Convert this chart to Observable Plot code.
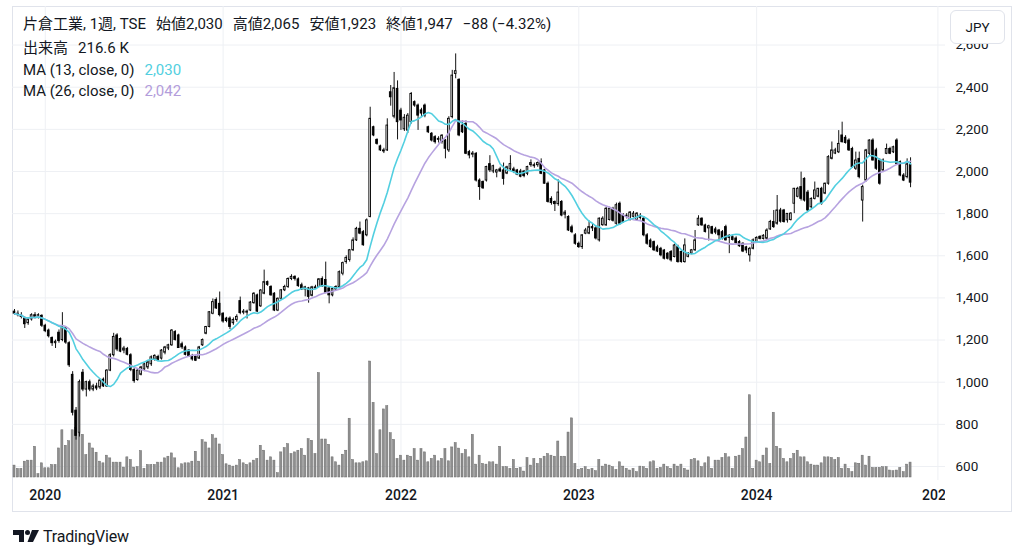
<!DOCTYPE html>
<html>
<head>
<meta charset="utf-8">
<script src="https://cdn.jsdelivr.net/npm/d3@7"></script>
<script src="https://cdn.jsdelivr.net/npm/@observablehq/plot@0.6"></script>
<style>
html,body{margin:0;padding:0;background:#fff;}
#wrap{position:relative;width:1024px;height:557px;overflow:hidden;font-family:Roboto,"Noto Sans CJK JP",sans-serif;color:#131722;}
.layer{position:absolute;left:0;top:0;}
.layer svg{display:block;}
#frame{position:absolute;left:12px;top:6px;width:1000px;height:506px;border:1px solid #e0e3eb;box-sizing:border-box;pointer-events:none;}
.leg{position:absolute;left:23px;height:20px;line-height:20px;font-size:15px;white-space:nowrap;color:#131722;}
.leg span.g{margin-left:10px;}
#jpy{position:absolute;left:950px;top:10px;width:55px;height:34px;box-sizing:border-box;border:1px solid #e0e3eb;border-radius:6px;background:#fff;font-size:13.5px;line-height:32px;text-align:center;color:#131722;}
#mask{position:absolute;left:945px;top:481px;width:65px;height:29px;background:#fff;}
#logo{position:absolute;left:13px;top:526px;height:20px;display:flex;align-items:center;}
#logo span{font-size:16px;margin-left:4px;color:#131722;letter-spacing:-0.2px;}
</style>
</head>
<body>
<div id="wrap">
  <div id="frame"></div>
  <div class="layer" id="gridLayer"></div>
  <div class="layer" id="volLayer"></div>
  <div class="layer" id="candleLayer"></div>
  <div id="mask"></div>
  <div class="leg" style="top:14px">片倉工業, 1週, TSE<span class="g">始値2,030</span><span class="g">高値2,065</span><span class="g">安値1,923</span><span class="g">終値1,947</span><span class="g">−88 (−4.32%)</span></div>
  <div class="leg" style="top:38px">出来高<span class="g">216.6 K</span></div>
  <div class="leg" style="top:60px">MA (13, close, 0)<span class="g" style="color:#52cfe0">2,030</span></div>
  <div class="leg" style="top:81px">MA (26, close, 0)<span class="g" style="color:#b39ddb">2,042</span></div>
  <div id="jpy">JPY</div>
  <div id="logo">
    <svg width="26" height="12" viewBox="0 0 26 12"><path d="M0 0H11V12H6V5H0Z" fill="#131722"/><circle cx="14.5" cy="2.5" r="2.5" fill="#131722"/><path d="M19 0H26L20 12H14.5Z" fill="#131722"/></svg>
    <span>TradingView</span>
  </div>
</div>
<script>
// weekly candles [open, high, low, close], first bar = week of 2019-11-04
const ohlc2019 = [
[1335,1345,1318,1325],[1325,1338,1310,1318],[1318,1330,1300,1310],[1305,1310,1255,1275],[1280,1305,1270,1298],
[1298,1325,1290,1318],[1318,1330,1300,1310],[1310,1325,1300,1318],[1315,1320,1260,1268]];
const ohlc2020 = [
[1268,1275,1235,1242],[1245,1252,1210,1218],[1210,1215,1170,1185],[1185,1200,1160,1192],[1235,1248,1185,1195],
[1200,1330,1192,1262],[1255,1262,1180,1188],[1185,1192,1070,1080],[1035,1050,840,855],[865,880,725,745],
[760,1010,740,1000],[1045,1060,955,965],[965,1005,930,1000],[1000,1010,955,965],[965,990,955,980],
[980,995,960,970],[975,1015,965,1008],[1012,1020,975,980],[980,1060,975,1055],[1055,1135,1050,1128],
[1128,1232,1120,1215],[1222,1230,1145,1155],[1205,1210,1140,1145],[1150,1170,1135,1160],[1158,1165,1125,1130],
[1128,1135,1050,1058],[1058,1065,995,1005],[1010,1060,1005,1055],[1035,1075,1030,1070],[1060,1090,1050,1085],
[1070,1100,1060,1095],[1085,1125,1075,1118],[1108,1130,1100,1125],[1120,1128,1100,1105],[1112,1155,1105,1150],
[1140,1170,1130,1165],[1160,1180,1150,1175],[1175,1250,1170,1245],[1238,1245,1195,1200],[1222,1228,1160,1162],
[1180,1190,1155,1165],[1165,1172,1125,1130],[1150,1155,1118,1120],[1125,1132,1100,1108],[1120,1125,1098,1102],
[1112,1170,1108,1165],[1175,1205,1170,1200],[1230,1265,1225,1262],[1262,1335,1258,1332],[1325,1395,1320,1380],
[1390,1400,1345,1350],[1372,1428,1310,1318]];
const ohlc2021 = [
[1325,1330,1280,1288],[1302,1308,1282,1290],[1302,1310,1250,1262],[1280,1305,1270,1295],[1295,1320,1285,1310],
[1385,1404,1320,1328],[1330,1345,1320,1335],[1330,1342,1300,1335],[1340,1382,1335,1378],[1375,1425,1370,1420],
[1412,1418,1330,1335],[1360,1440,1355,1435],[1420,1532,1415,1475],[1475,1480,1455,1462],[1452,1458,1408,1412],
[1420,1425,1335,1340],[1340,1400,1335,1396],[1396,1440,1390,1436],[1436,1460,1430,1452],[1452,1495,1445,1490],
[1490,1510,1482,1500],[1500,1505,1480,1490],[1488,1495,1450,1456],[1460,1470,1435,1440],[1440,1455,1405,1450],
[1445,1450,1375,1405],[1410,1455,1405,1450],[1450,1460,1440,1445],[1452,1492,1448,1488],[1490,1500,1450,1455],
[1485,1570,1420,1425],[1445,1450,1372,1412],[1412,1448,1405,1442],[1440,1458,1435,1452],[1452,1528,1448,1522],
[1515,1570,1505,1565],[1570,1600,1560,1590],[1580,1630,1570,1626],[1626,1685,1620,1673],[1673,1735,1668,1728],
[1728,1760,1700,1705],[1712,1720,1645,1650],[1697,1775,1690,1768],[1784,2305,1780,2250],[2210,2215,2165,2171],
[2150,2155,2125,2131],[2119,2125,2095,2100],[2100,2110,2085,2095],[2100,2250,2095,2218],[2376,2408,2310,2352],
[2260,2470,2250,2395],[2392,2430,2150,2234]];
const ohlc2022 = [
[2289,2300,2195,2242],[2200,2270,2190,2255],[2194,2275,2180,2265],[2234,2375,2225,2368],[2329,2335,2305,2313],
[2313,2320,2195,2265],[2290,2300,2260,2275],[2313,2320,2255,2265],[2210,2215,2180,2186],[2179,2185,2140,2147],
[2163,2170,2130,2139],[2150,2165,2135,2155],[2140,2175,2130,2170],[2147,2152,2060,2108],[2100,2260,2090,2250],
[2258,2480,2250,2455],[2463,2558,2440,2476],[2435,2440,2165,2171],[2218,2240,2180,2186],[2226,2240,2080,2084],
[2092,2100,2060,2076],[2080,2095,2065,2085],[2084,2090,1950,1957],[1957,1965,1863,1926],[1950,1955,1915,1920],
[1957,2025,1950,2021],[2035,2075,1995,2005],[2000,2030,1990,2025],[1995,2010,1970,2005],[2010,2020,1995,2000],
[2005,2040,1935,1965],[1990,2025,1985,2020],[2010,2075,2000,2035],[2010,2020,1990,2000],[2005,2010,1980,1985],
[2000,2010,1970,1975],[2000,2005,1970,1978],[1989,2025,1980,2021],[2030,2055,2020,2040],[2025,2040,2015,2030],
[2030,2045,2020,2040],[2044,2060,1985,1989],[2005,2010,1940,1942],[1942,1950,1850,1855],[1870,1880,1840,1850],
[1855,1860,1810,1845],[1845,1960,1835,1900],[1855,1862,1785,1791],[1795,1815,1775,1805],[1784,1790,1715,1720],
[1735,1745,1705,1712],[1697,1705,1650,1657]];
const ohlc2023 = [
[1657,1665,1635,1641],[1641,1700,1630,1697],[1705,1730,1700,1720],[1705,1765,1700,1736],[1736,1750,1715,1730],
[1730,1740,1675,1682],[1673,1780,1665,1776],[1745,1785,1740,1776],[1744,1830,1740,1823],[1770,1830,1765,1823],
[1823,1830,1760,1766],[1752,1850,1745,1840],[1847,1855,1745,1752],[1790,1800,1755,1760],[1790,1800,1775,1785],
[1770,1810,1765,1805],[1785,1810,1780,1800],[1770,1805,1765,1800],[1790,1800,1770,1780],[1776,1785,1690,1697],
[1697,1705,1650,1657],[1672,1680,1635,1641],[1665,1670,1620,1626],[1640,1650,1615,1620],[1633,1640,1595,1602],
[1625,1630,1580,1586],[1610,1615,1580,1586],[1618,1625,1570,1578],[1594,1655,1590,1649],[1641,1650,1565,1570],
[1618,1625,1565,1570],[1570,1680,1565,1649],[1595,1615,1590,1610],[1610,1630,1605,1626],[1626,1720,1620,1673],
[1744,1790,1740,1776],[1776,1780,1740,1744],[1744,1750,1708,1713],[1730,1745,1670,1740],[1736,1740,1700,1705],
[1725,1735,1700,1710],[1720,1725,1670,1697],[1712,1720,1675,1680],[1736,1745,1670,1673],[1695,1700,1610,1685],
[1688,1695,1670,1675],[1682,1690,1655,1660],[1665,1672,1640,1645],[1657,1662,1615,1620],[1640,1645,1610,1625],
[1602,1640,1570,1633],[1633,1680,1628,1673]];
const ohlc2024 = [
[1665,1690,1660,1685],[1690,1695,1675,1680],[1680,1700,1675,1695],[1681,1728,1675,1720],[1725,1768,1720,1760],
[1760,1815,1730,1736],[1752,1886,1745,1815],[1815,1825,1755,1762],[1815,1820,1755,1760],[1768,1800,1755,1799],
[1770,1805,1765,1800],[1847,1920,1800,1918],[1880,1925,1875,1918],[1926,1997,1860,1870],[1965,1970,1855,1862],
[1900,1910,1810,1815],[1830,1875,1825,1870],[1870,1950,1865,1910],[1880,1920,1875,1918],[1918,1925,1840,1847],
[1895,1945,1890,1942],[1942,2075,1935,2068],[2060,2140,2055,2100],[2085,2110,2080,2100],[2091,2194,2085,2131],
[2171,2234,2135,2139],[2160,2170,2130,2135],[2147,2155,2095,2100],[2107,2115,2015,2020],[2013,2092,2005,2052],
[2060,2092,1965,1973],[1862,1935,1760,1926],[1957,2105,1950,2100],[2084,2150,2075,2147],[2147,2155,2050,2052],
[2100,2110,2005,2013],[2052,2060,1935,1942],[2005,2060,1995,2052],[2084,2130,2080,2107],[2107,2115,2080,2084],
[2091,2120,2085,2115],[2147,2155,2030,2036],[2044,2050,1975,1981],[1981,1990,1952,1957],[1973,2060,1965,2035],
[2030,2065,1923,1947]];

// weekly volume, thousands of shares
const vol2019 = [173,125,125,230,245,245,446,48,206];
const vol2020 = [134,134,182,182,422,686,461,528,686,720,640,620,326,494,422,360,230,206,317,278,
216,216,216,144,293,254,144,149,384,125,182,182,182,216,216,278,302,350,278,134,
192,206,206,230,374,230,542,509,422,614,566,480];
const vol2021 = [326,192,173,158,173,254,206,182,206,245,269,461,389,245,293,245,62,365,427,485,
341,365,389,413,317,557,533,341,1517,552,552,475,293,221,173,331,389,854,254,206,
206,221,235,1685,1085,340,686,989,1037,643,547,269];
const vol2022 = [317,245,317,302,413,245,413,365,221,269,317,235,269,413,235,437,500,420,341,398,
293,619,187,317,197,187,221,221,187,446,149,149,125,254,125,139,86,283,173,269,
197,269,302,341,317,302,523,302,302,653,859,197];
const vol2023 = [110,125,149,110,125,91,254,158,187,173,149,110,221,158,125,101,125,77,158,149,
125,221,235,125,139,187,149,125,187,158,187,125,101,254,269,235,149,206,293,125,
245,245,283,341,293,125,302,317,413,581,1195,125];
const vol2024 = [245,221,317,422,197,941,446,413,269,221,269,341,389,293,293,221,187,173,173,206,
293,293,283,254,283,125,187,125,77,206,200,317,173,302,139,139,139,149,149,101,
91,101,139,77,187,216.6];

const firstWeek = "2019-11-04";
const yearTicks = ["2020-01-06","2021-01-04","2022-01-03","2023-01-02","2024-01-01","2025-01-06"];
const priceTicks = [600,800,1000,1200,1400,1600,1800,2000,2200,2400,2600];

const WEEK = 7 * 864e5;
const start = new Date(firstWeek + "T00:00:00Z");
const candles = [].concat(ohlc2019, ohlc2020, ohlc2021, ohlc2022, ohlc2023, ohlc2024);
const volumes = [].concat(vol2019, vol2020, vol2021, vol2022, vol2023, vol2024);
const data = candles.map(([open, high, low, close], i) => ({
  date: new Date(+start + i * WEEK), open, high, low, close, volume: volumes[i], up: close >= open
}));
const yearDates = yearTicks.map(s => new Date(s + "T00:00:00Z"));

const W = 1024, H = 512;
const common = {width: W, height: H, marginLeft: 12, marginRight: 79};
const xDomain = [new Date(+start - 0.585 * WEEK), new Date(+start + 272.22 * WEEK)];
const priceDomain = [533.5, 2783];
const font = {background: "transparent", fontFamily: "Roboto, 'Noto Sans CJK JP', sans-serif", color: "#131722", overflow: "visible"};
const half = 0.24 * WEEK;

const gridPlot = Plot.plot({
  ...common, marginTop: 6, marginBottom: 32,
  x: {type: "utc", domain: xDomain},
  y: {domain: priceDomain},
  style: {...font, fontSize: "13.5px"},
  marks: [
    Plot.gridY(priceTicks, {stroke: "#eef0f4", strokeOpacity: 1}),
    Plot.gridX(yearDates, {stroke: "#eef0f4", strokeOpacity: 1}),
    Plot.axisY(priceTicks, {anchor: "right", tickSize: 0, tickPadding: 10, tickFormat: d3.format(","), fontSize: 13.5}),
    Plot.axisX(yearDates, {anchor: "bottom", tickSize: 0, tickPadding: 9.5, tickFormat: d3.utcFormat("%Y"), fontSize: 14, fontWeight: 500})
  ]
});
document.getElementById("gridLayer").append(gridPlot);

const volPlot = Plot.plot({
  ...common, marginTop: 360, marginBottom: 35,
  x: {type: "utc", domain: xDomain, axis: null},
  y: {domain: [0, 1700], axis: null},
  style: font,
  marks: [
    Plot.rectY(data, {x1: d => new Date(+d.date - 0.3 * WEEK), x2: d => new Date(+d.date + 0.3 * WEEK), y: "volume",
      fill: "#8f8f8f", stroke: "#6b6b6b", strokeWidth: 0.5})
  ]
});
document.getElementById("volLayer").append(volPlot);

const candlePlot = Plot.plot({
  ...common, marginTop: 6, marginBottom: 32,
  x: {type: "utc", domain: xDomain, axis: null},
  y: {domain: priceDomain, axis: null},
  style: font,
  marks: [
    Plot.ruleX(data, {x: "date", y1: "low", y2: "high", stroke: "#131313", strokeWidth: 1}),
    Plot.rect(data, {x1: d => new Date(+d.date - half), x2: d => new Date(+d.date + half), y1: "open", y2: "close",
      fill: d => d.up ? "#ffffff" : "#000000", stroke: "#000000", strokeWidth: 0.9}),
    Plot.lineY(data, Plot.windowY({k: 26, anchor: "end", reduce: "mean"}, {x: "date", y: "close", stroke: "#b7a3e0", strokeWidth: 1.6})),
    Plot.lineY(data, Plot.windowY({k: 13, anchor: "end", reduce: "mean"}, {x: "date", y: "close", stroke: "#52cfe0", strokeWidth: 1.6}))
  ]
});
document.getElementById("candleLayer").append(candlePlot);
</script>
</body>
</html>
